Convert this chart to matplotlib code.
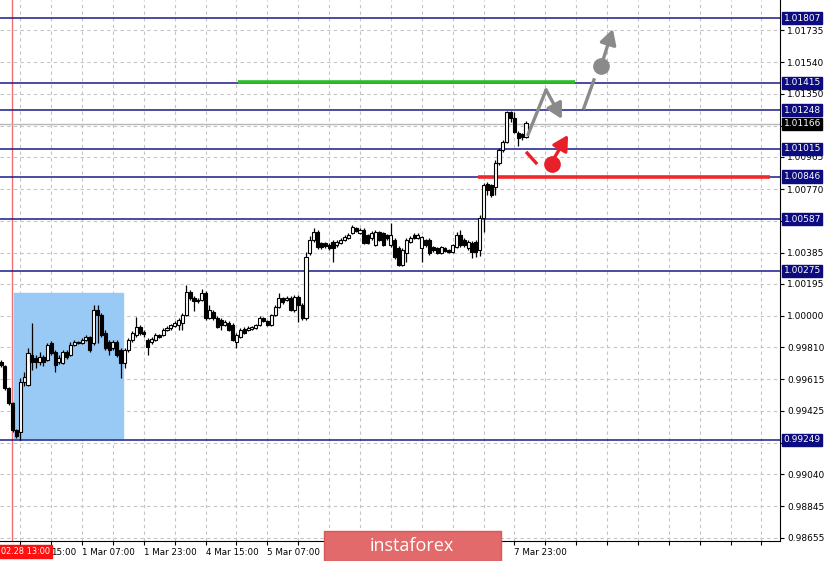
import numpy as np
import matplotlib.pyplot as plt
from matplotlib.patches import Rectangle

# hourly candles, 28 Feb 10:00 .. 7 Mar
opens = [0.99721, 0.99697, 0.99563, 0.99472, 0.99308, 0.99296, 0.99599, 0.99581, 0.99763, 0.99745,
         0.99721, 0.99751, 0.99733, 0.99836, 0.99781, 0.99721, 0.99715, 0.99781, 0.99763, 0.99824,
         0.99842, 0.99836, 0.99854, 0.99873, 0.99836, 1.00036, 1.00006, 0.99897, 0.99842, 0.99806,
         0.99842, 0.99794, 0.99715, 0.99794, 0.99854, 0.99885, 0.99933, 0.99903, 0.99854, 0.99842,
         0.99854, 0.99885, 0.99885, 0.99915, 0.99927, 0.99939, 0.99945, 0.99958, 1.00006, 1.00146,
         1.00109, 1.00091, 1.00097, 1.00140, 0.99988, 1.00024, 0.99988, 0.99976, 0.99945, 0.99958,
         0.99945, 0.99842, 0.99873, 0.99921, 0.99915, 0.99921, 0.99927, 0.99945, 0.99988, 0.99970,
         0.99945, 1.00006, 1.00055, 1.00109, 1.00097, 1.00109, 1.00036, 1.00115, 1.00067, 0.99988,
         1.00382, 1.00461, 1.00510, 1.00443, 1.00443, 1.00431, 1.00449, 1.00431, 1.00443, 1.00461,
         1.00473, 1.00504, 1.00534, 1.00504, 1.00522, 1.00492, 1.00473, 1.00431, 1.00510, 1.00504,
         1.00492, 1.00431, 1.00461, 1.00413, 1.00310, 1.00382, 1.00449, 1.00492, 1.00473, 1.00413,
         1.00461, 1.00461, 1.00419, 1.00413, 1.00382, 1.00413, 1.00401, 1.00388, 1.00419, 1.00492,
         1.00461, 1.00413, 1.00443, 1.00449, 1.00401, 1.00595, 1.00801, 1.00795, 1.00783, 1.00929,
         1.01008, 1.01056, 1.01238, 1.01202, 1.01111, 1.01105, 1.01087]
highs = [0.99733, 0.99703, 0.99569, 0.99478, 0.99314, 0.99624, 0.99660, 0.99806, 0.99958, 0.99763,
         0.99781, 0.99763, 0.99836, 0.99848, 0.99794, 0.99763, 0.99794, 0.99794, 0.99842, 0.99854,
         0.99848, 0.99866, 0.99885, 0.99879, 1.00067, 1.00067, 1.00018, 0.99915, 0.99854, 0.99854,
         0.99854, 0.99806, 0.99806, 0.99866, 0.99909, 0.99994, 0.99945, 0.99915, 0.99866, 0.99873,
         0.99897, 0.99891, 0.99927, 0.99939, 0.99951, 0.99970, 0.99988, 1.00018, 1.00188, 1.00158,
         1.00121, 1.00109, 1.00164, 1.00152, 1.00067, 1.00036, 1.00000, 0.99988, 0.99976, 0.99970,
         0.99958, 0.99897, 0.99927, 0.99933, 0.99939, 0.99939, 0.99951, 1.00000, 0.99994, 0.99976,
         1.00012, 1.00067, 1.00140, 1.00115, 1.00121, 1.00121, 1.00127, 1.00127, 1.00079, 1.00388,
         1.00486, 1.00534, 1.00522, 1.00449, 1.00449, 1.00443, 1.00461, 1.00461, 1.00473, 1.00492,
         1.00504, 1.00552, 1.00540, 1.00534, 1.00534, 1.00498, 1.00516, 1.00522, 1.00516, 1.00510,
         1.00498, 1.00565, 1.00473, 1.00425, 1.00413, 1.00473, 1.00486, 1.00504, 1.00504, 1.00486,
         1.00467, 1.00473, 1.00425, 1.00419, 1.00425, 1.00419, 1.00407, 1.00437, 1.00510, 1.00522,
         1.00473, 1.00461, 1.00455, 1.00461, 1.00613, 1.00807, 1.00813, 1.00801, 1.00947, 1.01020,
         1.01068, 1.01244, 1.01244, 1.01238, 1.01123, 1.01111, 1.01184]
lows = [0.99690, 0.99551, 0.99460, 0.99296, 0.99259, 0.99247, 0.99575, 0.99575, 0.99672, 0.99684,
        0.99703, 0.99697, 0.99727, 0.99763, 0.99660, 0.99709, 0.99709, 0.99739, 0.99757, 0.99818,
        0.99830, 0.99830, 0.99848, 0.99781, 0.99824, 0.99836, 0.99873, 0.99794, 0.99763, 0.99794,
        0.99751, 0.99624, 0.99684, 0.99781, 0.99842, 0.99873, 0.99885, 0.99873, 0.99763, 0.99830,
        0.99848, 0.99866, 0.99879, 0.99909, 0.99915, 0.99933, 0.99915, 0.99915, 1.00000, 1.00097,
        1.00030, 1.00079, 1.00091, 0.99976, 0.99982, 0.99976, 0.99927, 0.99915, 0.99939, 0.99909,
        0.99848, 0.99806, 0.99866, 0.99891, 0.99909, 0.99915, 0.99921, 0.99939, 0.99964, 0.99939,
        0.99939, 1.00000, 1.00049, 1.00073, 1.00091, 1.00030, 1.00024, 0.99964, 0.99976, 0.99976,
        1.00370, 1.00449, 1.00407, 1.00407, 1.00413, 1.00401, 1.00328, 1.00419, 1.00437, 1.00455,
        1.00467, 1.00498, 1.00510, 1.00498, 1.00437, 1.00437, 1.00461, 1.00425, 1.00455, 1.00425,
        1.00461, 1.00419, 1.00346, 1.00304, 1.00304, 1.00328, 1.00443, 1.00467, 1.00467, 1.00328,
        1.00419, 1.00370, 1.00388, 1.00376, 1.00376, 1.00388, 1.00382, 1.00382, 1.00413, 1.00419,
        1.00419, 1.00401, 1.00352, 1.00358, 1.00364, 1.00510, 1.00734, 1.00722, 1.00734, 1.00917,
        1.00995, 1.01050, 1.01178, 1.01111, 1.01032, 1.01068, 1.01080]
closes = [0.99703, 0.99563, 0.99472, 0.99308, 0.99272, 0.99599, 0.99630, 0.99775, 0.99721, 0.99721,
          0.99751, 0.99721, 0.99824, 0.99775, 0.99703, 0.99745, 0.99781, 0.99751, 0.99824, 0.99842,
          0.99836, 0.99854, 0.99873, 0.99794, 1.00036, 1.00006, 0.99885, 0.99806, 0.99794, 0.99842,
          0.99763, 0.99715, 0.99794, 0.99854, 0.99897, 0.99933, 0.99897, 0.99891, 0.99812, 0.99860,
          0.99885, 0.99873, 0.99915, 0.99927, 0.99945, 0.99958, 0.99976, 1.00006, 1.00146, 1.00109,
          1.00091, 1.00097, 1.00140, 0.99988, 1.00036, 0.99988, 0.99933, 0.99945, 0.99964, 0.99915,
          0.99854, 0.99885, 0.99915, 0.99897, 0.99927, 0.99933, 0.99945, 0.99988, 0.99970, 0.99945,
          1.00006, 1.00055, 1.00109, 1.00085, 1.00109, 1.00036, 1.00115, 1.00067, 0.99988, 1.00358,
          1.00461, 1.00510, 1.00419, 1.00419, 1.00425, 1.00413, 1.00413, 1.00449, 1.00461, 1.00480,
          1.00492, 1.00540, 1.00516, 1.00522, 1.00443, 1.00443, 1.00504, 1.00510, 1.00461, 1.00431,
          1.00473, 1.00492, 1.00358, 1.00310, 1.00401, 1.00461, 1.00473, 1.00473, 1.00492, 1.00480,
          1.00431, 1.00382, 1.00401, 1.00382, 1.00419, 1.00395, 1.00388, 1.00431, 1.00492, 1.00431,
          1.00431, 1.00449, 1.00388, 1.00388, 1.00595, 1.00795, 1.00765, 1.00734, 1.00929, 1.01008,
          1.01056, 1.01238, 1.01202, 1.01117, 1.01080, 1.01087, 1.01172]

levels = [1.01807, 1.01415, 1.01248, 1.01015, 1.00846, 1.00587, 1.00275, 0.99249]
current_price = 1.01166
price_ticks = [1.01735, 1.01540, 1.01350, 1.01155, 1.00965, 1.00770, 1.00575, 1.00385, 1.00195,
               1.00000, 0.99810, 0.99615, 0.99425, 0.99230, 0.99040, 0.98845, 0.98655]
hidden_ticks = [1.01155, 1.00575, 0.99230]
time_ticks = [21, 37, 53, 69, 133]
time_labels = ['1 Mar 07:00', '1 Mar 23:00', '4 Mar 15:00', '5 Mar 07:00', '7 Mar 23:00']
first_label = '15:00'   # tail of "28 Feb 15:00", the rest sits under the red date box

# forecast marks (bar index, price)
gray_path = ([136.5, 141.2], [1.01099, 1.01372])
gray_head = ((141.2, 1.01372), (145.3, 1.01196))
gray_seg = ([151.0, 153.6], [1.01263, 1.01433])
gray_dot = (155.4, 1.01518)
gray_up = ((155.9, 1.01550), (158.5, 1.01742))
red_seg = ([136.3, 138.6], [1.00989, 1.00929])
red_dot = (142.7, 1.00923)
red_up = ((143.2, 1.00955), (146.9, 1.01099))

navy = '#1a1a8a'
fig = plt.figure(figsize=(8.24, 5.61), dpi=100)
ax = fig.add_axes([0, 20 / 561, 780 / 824, 541 / 561])
ax.set_xlim(-0.26, 201.8)
ax.set_ylim(0.98634, 1.01918)

x = np.arange(len(opens))
o = np.array(opens); c = np.array(closes)
up = c >= o

# grid
for t in price_ticks:
    ax.axhline(t, color='#c4c4c4', lw=0.8, ls=(0, (3, 3)), zorder=0)
for k in range(5, 200, 8):
    ax.axvline(k, color='#c4c4c4', lw=0.8, ls=(0, (3, 3)), zorder=0)

ax.add_patch(Rectangle((3.4, 0.99260), 28.2, 1.00140 - 0.99260, color='#99c9f5', zorder=1))
ax.axvline(2.85, color='#f07070', lw=1, zorder=2)

ax.axhline(current_price, color='#b8b8b8', lw=1, zorder=2)
for lv in levels:
    ax.axhline(lv, color=navy, lw=1.1, zorder=2)

ax.plot([61.4, 148.7], [1.01420, 1.01420], color='#2cbb2c', lw=2.6, zorder=3, solid_capstyle='butt')
ax.plot([123.6, 199.2], [1.00846, 1.00846], color='#f0282a', lw=2.6, zorder=3, solid_capstyle='butt')

# candles
ax.vlines(x, lows, highs, color='black', lw=0.9, zorder=4)
ax.bar(x[up], (c - o)[up], bottom=o[up], width=0.8, color='white', edgecolor='black', lw=0.8, zorder=5)
ax.bar(x[~up], (c - o)[~up], bottom=o[~up], width=0.8, color='black', edgecolor='black', lw=0.8, zorder=5)

# forecast arrows
gray = '#8a8a8a'
red = '#e8202a'
astyle = '-|>,head_length=0.9,head_width=0.5'
ax.plot(*gray_path, color=gray, lw=2.4, zorder=6, solid_capstyle='round')
ax.annotate('', xy=gray_head[1], xytext=gray_head[0],
            arrowprops=dict(arrowstyle=astyle, color=gray, lw=2.4, shrinkA=0, shrinkB=0), zorder=6)
ax.plot(*gray_seg, color=gray, lw=2.4, zorder=6)
ax.plot(*gray_dot, 'o', color=gray, ms=11, zorder=6)
ax.annotate('', xy=gray_up[1], xytext=gray_up[0],
            arrowprops=dict(arrowstyle=astyle, color=gray, lw=2.4, shrinkA=0, shrinkB=0), zorder=6)
ax.plot(*red_seg, color=red, lw=2.4, zorder=6)
ax.plot(*red_dot, 'o', color=red, ms=11, zorder=6)
ax.annotate('', xy=red_up[1], xytext=red_up[0],
            arrowprops=dict(arrowstyle=astyle, color=red, lw=2.4, shrinkA=0, shrinkB=0), zorder=6)

# axes look
for s in ['left', 'top']:
    ax.spines[s].set_visible(False)
ax.yaxis.tick_right()
ax.set_yticks(price_ticks)
ax.set_yticklabels(['' if t in hidden_ticks else f'{t:.5f}' for t in price_ticks])
ax.tick_params(axis='y', length=3, width=0.8, labelsize=6.5, pad=2, colors='black')
ax.set_xticks(time_ticks)
ax.set_xticklabels(time_labels)
ax.set_xticks(list(range(5, 200, 8)), minor=True)
ax.tick_params(axis='x', which='both', length=3, width=0.8, labelsize=6.3, pad=2)
for lab in ax.get_xticklabels():
    lab.set_horizontalalignment('left')
ax.annotate(first_label, xy=(12.9, 0), xycoords=('data', 'axes fraction'), xytext=(0, -5),
            textcoords='offset points', va='top', ha='left', fontsize=6.3, annotation_clip=False)

for lv in levels:
    ax.annotate(f'{lv:.5f}', xy=(1, lv), xycoords=('axes fraction', 'data'), xytext=(2.5, 0),
                textcoords='offset points', va='center', ha='left', fontsize=6.5, color='white',
                bbox=dict(boxstyle='square,pad=0.18', fc='#0c0c80', ec='#0c0c80'), zorder=10,
                annotation_clip=False)
ax.annotate(f'{current_price:.5f}', xy=(1, current_price), xycoords=('axes fraction', 'data'),
            xytext=(2.5, 0), textcoords='offset points', va='center', ha='left', fontsize=6.5,
            color='white', bbox=dict(boxstyle='square,pad=0.18', fc='black', ec='black'),
            zorder=10, annotation_clip=False)

ax.annotate('02.28 13:00', xy=(0, 0), xycoords='axes fraction', xytext=(1, -7.5),
            textcoords='offset points', va='center', ha='left', fontsize=5.9, color='white',
            bbox=dict(boxstyle='square,pad=0.25', fc='#ff1010', ec='#ff1010'), zorder=10,
            annotation_clip=False)

# watermark
fig.patches.append(Rectangle((324 / 824, 0), 177 / 824, 30 / 561, transform=fig.transFigure,
                             fc='#e26a6a', ec='#d45a5a', zorder=20))
fig.text(412 / 824, 15 / 561, 'instaforex', color='white', fontsize=13, family='Open Sans',
         ha='center', va='center', zorder=21)

fig.savefig('out.png', dpi=100)
